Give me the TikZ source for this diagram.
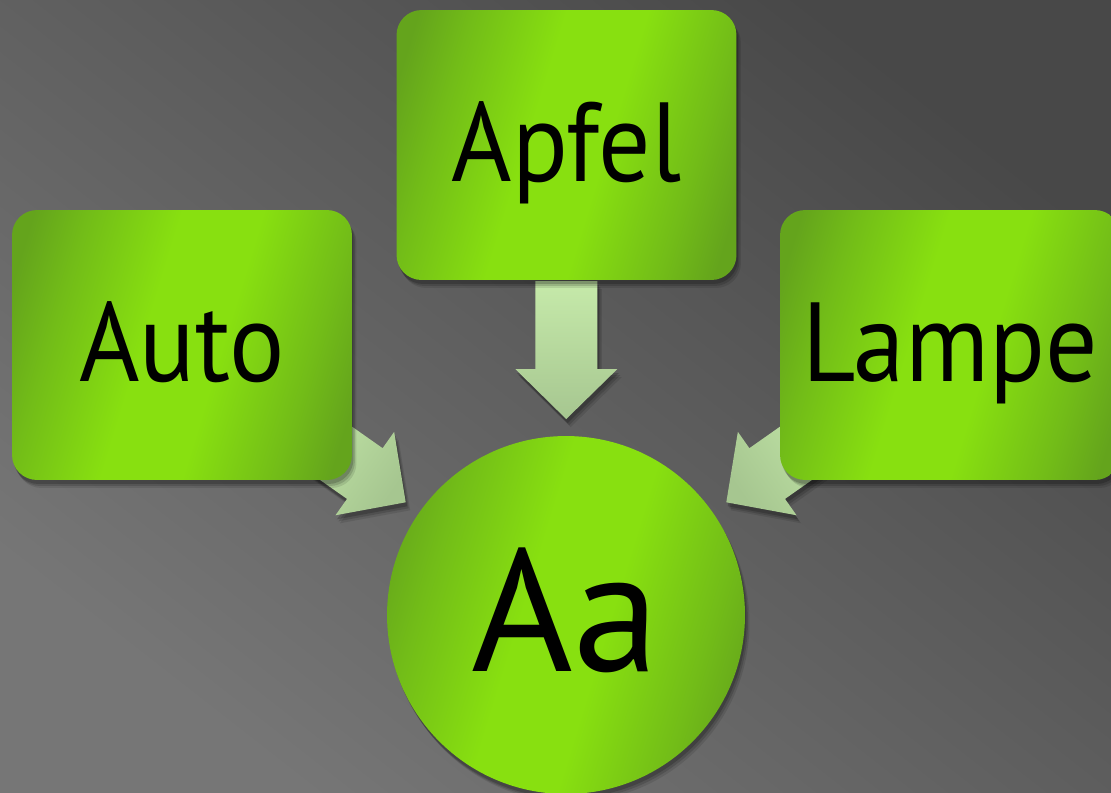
\documentclass[tikz,border=0pt]{standalone}
\usepackage{fontspec}
\setmainfont{PT Sans}[FakeStretch=0.92]
\newfontfamily\aafont{PT Sans}
\usetikzlibrary{calc,shadows}
\definecolor{gdk}{RGB}{100,164,28}
\definecolor{gmd}{RGB}{114,188,24}
\definecolor{glt}{RGB}{136,224,16}
\definecolor{alt}{RGB}{198,234,170}
\definecolor{adk}{RGB}{166,198,144}
\definecolor{bgdk}{RGB}{72,72,72}
\definecolor{bglt}{RGB}{118,118,118}
\pgfdeclarehorizontalshading{greenband}{100bp}{color(0bp)=(gdk); color(22bp)=(gdk); color(30bp)=(gmd); color(44bp)=(glt); color(56bp)=(glt); color(70bp)=(gmd); color(78bp)=(gdk); color(100bp)=(gdk)}
\pgfdeclarelayer{bg}
\pgfdeclarelayer{arrowlayer}
\pgfsetlayers{bg,arrowlayer,main}
\tikzset{
  softshadow/.style={
    general shadow={fill=black, opacity=0.10, shadow xshift=0.09cm, shadow yshift=-0.16cm},
    general shadow={fill=black, opacity=0.14, shadow xshift=0.06cm, shadow yshift=-0.12cm},
    general shadow={fill=black, opacity=0.18, shadow xshift=0.03cm, shadow yshift=-0.08cm}},
  greenbox/.style={rectangle, rounded corners=0.5cm, minimum width=6.8cm, minimum height=5.4cm,
    shading=greenband, shading angle=-17, softshadow, inner sep=0pt,
    font=\fontsize{64}{70}\selectfont, text height=41pt, text depth=0pt},
  greencircle/.style={circle, minimum size=7.16cm, shading=greenband, shading angle=-17, softshadow, inner sep=0pt,
    font=\aafont\fontsize{99}{100}\selectfont, text height=64pt, text depth=0pt},
  arrowfill/.style={top color=alt, bottom color=adk, softshadow}
}
\newcommand\fatarrow[3]{%
  \coordinate (#1-tip) at ($(#2)!3.92cm!(#1)$);
  \coordinate (#1-back) at ($(#1-tip)!2.76cm!(#1)$);
  \coordinate (#1-hb) at ($(#1-tip)!1cm!(#1)$);
  \shade[arrowfill, shading angle=#3]
    ($(#1-back)!0.62cm!90:(#1-tip)$) -- ($(#1-hb)!0.62cm!90:(#1-tip)$) --
    ($(#1-hb)!1.02cm!90:(#1-tip)$) -- (#1-tip) --
    ($(#1-hb)!1.02cm!-90:(#1-tip)$) -- ($(#1-hb)!0.62cm!-90:(#1-tip)$) --
    ($(#1-back)!0.62cm!-90:(#1-tip)$) -- cycle;
}
\begin{document}
\begin{tikzpicture}[x=0.02cm, y=-0.02cm]
  \useasboundingbox (0,0) rectangle (1111,792);
  \begin{pgfonlayer}{bg}
    \shade[top color=bgdk, bottom color=bglt, shading angle=-38] (0,0) rectangle (1111,792);
  \end{pgfonlayer}
  \node[greenbox] (apfel) at (566.5,145) {Apfel};
  \node[greenbox] (auto) at (182,345) {Auto};
  \node[greenbox] (lampe) at (950,345) {Lampe};
  \node[greencircle] (aa) at (566,615) {Aa};
  \begin{pgfonlayer}{arrowlayer}
    \fatarrow{apfel}{aa}{0}
    \fatarrow{auto}{aa}{55}
    \fatarrow{lampe}{aa}{-55}
  \end{pgfonlayer}
\end{tikzpicture}
\end{document}
